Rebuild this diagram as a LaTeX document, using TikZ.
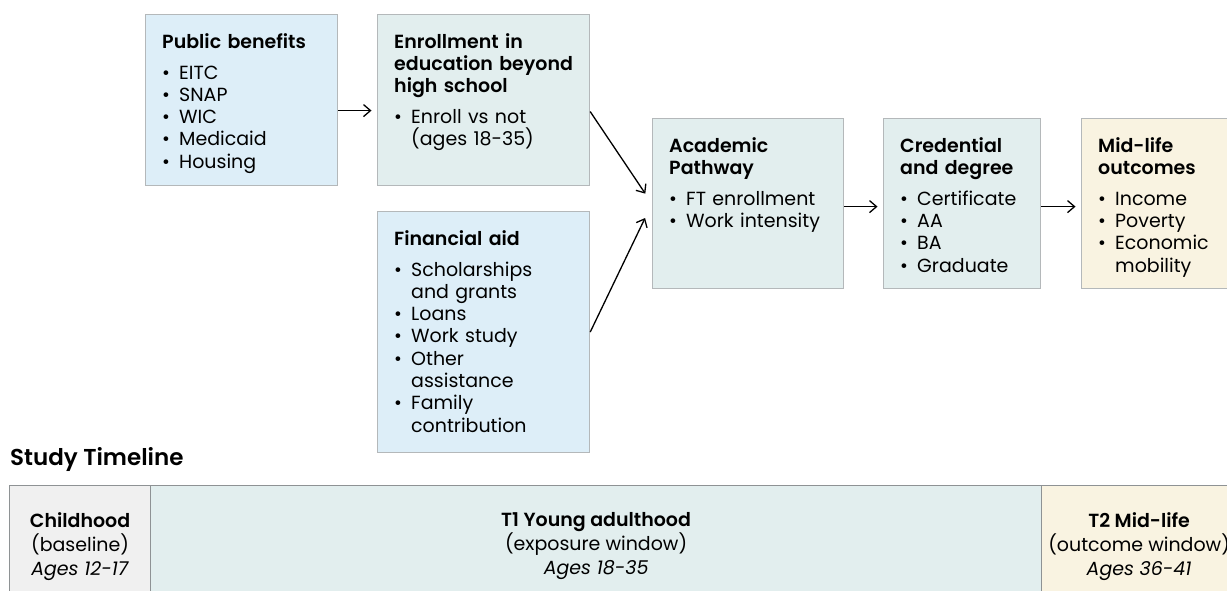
\documentclass[tikz,border=0pt]{standalone}
\usepackage{fontspec}
\IfFontExistsTF{Poppins SemiBold}
    {\setmainfont{Poppins}[BoldFont={Poppins SemiBold}]}
    {\setmainfont{Poppins}}
\usetikzlibrary{positioning, arrows.meta}

\definecolor{benefitblue}{HTML}{DDEEF8}
\definecolor{pathteal}{HTML}{E2EEEE}
\definecolor{outcomecream}{HTML}{F9F3E1}
\definecolor{childgray}{HTML}{F0F0F0}
\definecolor{boxline}{HTML}{B4B8BA}
\definecolor{tlline}{HTML}{8E9294}

% heading and bullet lines inside the boxes
\newcommand{\boxhead}[1]{{\bfseries #1\par}\vspace{8.7pt}}
\newcommand{\bitem}[1]{\par\noindent\makebox[17pt][l]{\textbullet}#1}
\newcommand{\bmore}[1]{\par\noindent\hspace*{17pt}#1}

\tikzset{
    flowbox/.style={draw=boxline, line width=1.2pt, anchor=north west, inner sep=0pt},
    flowtext/.style={inner sep=0pt, text width=260pt, align=left, font=\fontsize{19}{22.3}\selectfont},
    flow/.style={->, line width=1.3pt, shorten >=5.5pt},
    tlcell/.style={draw=tlline, line width=1.2pt, anchor=north west, inner sep=0pt, minimum height=130pt},
    tltext/.style={inner sep=0pt, align=center, font=\fontsize{19}{24}\selectfont}
}

\begin{document}
\begin{tikzpicture}[x=1pt, y=-1pt, >={Straight Barb[length=7pt,width=12pt]}]
    \useasboundingbox (0,0) rectangle (1227,591);
    \clip (0,0) rectangle (1227,591);

    % Boxes of the pathway
    \node[flowbox, fill=benefitblue, minimum width=192pt, minimum height=171pt] (pub) at (145,14) {};
    \node[flowbox, fill=pathteal, minimum width=212pt, minimum height=171pt] (enr) at (377,14) {};
    \node[flowbox, fill=benefitblue, minimum width=212pt, minimum height=241pt] (aid) at (377,211) {};
    \node[flowbox, fill=pathteal, minimum width=191pt, minimum height=170pt] (ap) at (652,118) {};
    \node[flowbox, fill=pathteal, minimum width=157pt, minimum height=170pt] (cred) at (883,118) {};
    \node[flowbox, fill=outcomecream, minimum width=157pt, minimum height=170pt] (mid) at (1081,118) {};

    % Box texts
    \node[flowtext, below right=19pt and 17pt of pub.north west] (pubtxt)
        {\boxhead{Public benefits}\bitem{EITC}\bitem{SNAP}\bitem{WIC}\bitem{Medicaid}\bitem{Housing}};
    \node[flowtext, below right=19pt and 17pt of enr.north west] (enrtxt)
        {\boxhead{Enrollment in\\education beyond\\high school}\bitem{Enroll vs not}\bmore{(ages 18-35)}};
    \node[flowtext, below right=19pt and 17pt of aid.north west] (aidtxt)
        {\boxhead{Financial aid}\bitem{Scholarships}\bmore{and grants}\bitem{Loans}\bitem{Work study}%
         \bitem{Other}\bmore{assistance}\bitem{Family}\bmore{contribution}};
    \node[flowtext, below right=19pt and 17pt of ap.north west] (aptxt)
        {\boxhead{Academic\\Pathway}\bitem{FT enrollment}\bitem{Work intensity}};
    \node[flowtext, below right=19pt and 17pt of cred.north west] (credtxt)
        {\boxhead{Credential\\and degree}\bitem{Certificate}\bitem{AA}\bitem{BA}\bitem{Graduate}};
    \node[flowtext, below right=19pt and 17pt of mid.north west] (midtxt)
        {\boxhead{Mid-life\\outcomes}\bitem{Income}\bitem{Poverty}\bitem{Economic}\bmore{mobility}};

    % Arrows
    \draw[flow] ([yshift=-10.5pt]pub.east) -- ([yshift=-10.5pt]enr.west);
    \draw[flow, shorten >=12pt] ([yshift=-11.5pt]enr.east) -- (ap.west);
    \draw[flow, shorten >=16pt] (aid.east) -- (ap.west);
    \draw[flow] ([yshift=-3pt]ap.east) -- ([yshift=-3pt]cred.west);
    \draw[flow] ([yshift=-3pt]cred.east) -- ([yshift=-3pt]mid.west);

    % Study timeline
    \node[anchor=base west, inner sep=0pt, font=\fontsize{23}{26}\selectfont\bfseries] (tltitle) at (10,465) {Study Timeline};
    \node[tlcell, fill=childgray, minimum width=141pt] (child) at (9,485) {};
    \node[tlcell, fill=pathteal, minimum width=891pt] (young) at (150,485) {};
    \node[tlcell, fill=outcomecream, minimum width=195pt] (later) at (1041,485) {};

    \node[tltext, below=27pt of child.north] (childtxt) {\textbf{Childhood}\\(baseline)\\\textit{Ages 12-17}};
    \node[tltext, below=27pt of young.north] (youngtxt) {\textbf{T1 Young adulthood}\\(exposure window)\\\textit{Ages 18-35}};
    \node[tltext, below=27pt of later.north] (latertxt) {\textbf{T2 Mid-life}\\(outcome window)\\\textit{Ages 36-41}};
\end{tikzpicture}
\end{document}
